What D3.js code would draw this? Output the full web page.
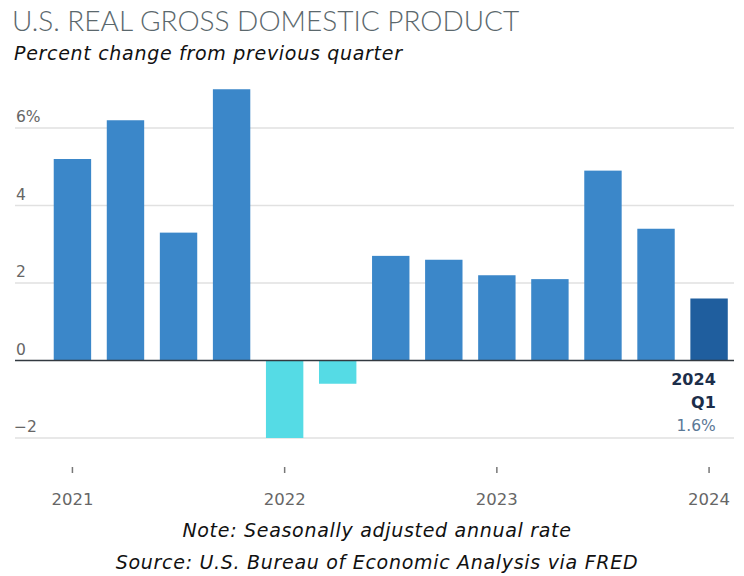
<!DOCTYPE html>
<html>
<head>
<meta charset="utf-8">
<script src="https://cdn.jsdelivr.net/npm/d3@7"></script>
<style>
  html, body { margin: 0; padding: 0; background: #fff; }
  svg { display: block; }
</style>
</head>
<body>
<svg id="chart" width="744" height="576"></svg>
<script>
// Quarterly real GDP growth, percent change from previous quarter (SAAR)
const quarters = ["2021 Q1", "2021 Q2", "2021 Q3", "2021 Q4",
                  "2022 Q1", "2022 Q2", "2022 Q3", "2022 Q4",
                  "2023 Q1", "2023 Q2", "2023 Q3", "2023 Q4",
                  "2024 Q1"];
const growth = [5.2, 6.2, 3.3, 7.0, -2.0, -0.6, 2.7, 2.6, 2.2, 2.1, 4.9, 3.4, 1.6];
const yTicks = [-2, 0, 2, 4, 6];
const yearTicks = ["2021 Q1", "2022 Q1", "2023 Q1", "2024 Q1"];

const svg = d3.select("#chart");

const x = d3.scaleBand()
  .domain(quarters)
  .range([45.9, 735.6])
  .paddingInner(0.295)
  .paddingOuter(0.1475);

const y = d3.scaleLinear()
  .domain([-2, 6])
  .range([438, 128]);

const gridLeft = 15, gridRight = 734;
const italicFont = "'DejaVu Sans', sans-serif";
const numFont = "'DejaVu Sans', sans-serif";

// Title and subtitle
svg.append("text")
  .attr("x", 12).attr("y", 31)
  .attr("font-family", "Lato, sans-serif")
  .attr("font-weight", 300)
  .attr("font-size", 28)
  .attr("fill", "#5b686d")
  .text("U.S. REAL GROSS DOMESTIC PRODUCT");

svg.append("text")
  .attr("x", 14).attr("y", 60)
  .attr("font-family", italicFont)
  .attr("font-style", "italic")
  .attr("font-size", 19)
  .attr("letter-spacing", 0.7)
  .attr("fill", "#111")
  .text("Percent change from previous quarter");

// Horizontal gridlines
svg.append("g")
  .selectAll("line")
  .data(yTicks.filter(d => d !== 0))
  .join("line")
  .attr("x1", gridLeft).attr("x2", gridRight)
  .attr("y1", d => y(d)).attr("y2", d => y(d))
  .attr("stroke", "#e1e1e1")
  .attr("stroke-width", 1.5);

// Y tick labels sit just above their gridlines
svg.append("g")
  .selectAll("text")
  .data(yTicks)
  .join("text")
  .attr("x", d => d < 0 ? 14 : 16)
  .attr("y", d => y(d) - 6)
  .attr("font-family", numFont)
  .attr("font-size", 15.5)
  .attr("fill", "#666")
  .text(d => d === 6 ? "6%" : (d < 0 ? "\u22122" : d));

// Bars
const colorFor = (d, i) => i === quarters.length - 1 ? "#1f5e9e"
                         : d < 0 ? "#55dbe5" : "#3b87c9";

svg.append("g")
  .selectAll("rect")
  .data(growth)
  .join("rect")
  .attr("x", (d, i) => x(quarters[i]))
  .attr("width", x.bandwidth())
  .attr("y", d => y(Math.max(0, d)))
  .attr("height", d => Math.abs(y(d) - y(0)))
  .attr("fill", colorFor);

// Zero baseline
svg.append("line")
  .attr("x1", gridLeft).attr("x2", gridRight)
  .attr("y1", y(0)).attr("y2", y(0))
  .attr("stroke", "#333a40")
  .attr("stroke-width", 1.5);

// Year ticks below the plot, centred on each first-quarter bar
const xAxis = d3.axisBottom(x)
  .tickValues(yearTicks)
  .tickSize(6)
  .tickPadding(20)
  .tickFormat(d => d.slice(0, 4));

const gx = svg.append("g")
  .attr("transform", "translate(0,467)")
  .call(xAxis);
gx.select(".domain").remove();
gx.selectAll(".tick line").attr("stroke", "#777").attr("stroke-width", 1.5);
gx.selectAll(".tick text")
  .attr("font-family", numFont)
  .attr("font-size", 16.5)
  .attr("fill", "#666");

// Callout for the latest quarter
const last = quarters.length - 1;
const calloutX = x(quarters[last]) + x.bandwidth() - 12;
const callout = svg.append("g")
  .attr("font-family", numFont)
  .attr("text-anchor", "end");
callout.append("text")
  .attr("x", calloutX).attr("y", 385)
  .attr("font-weight", 700).attr("font-size", 16)
  .attr("fill", "#1c2e4a")
  .text(quarters[last].slice(0, 4));
callout.append("text")
  .attr("x", calloutX).attr("y", 408)
  .attr("font-weight", 700).attr("font-size", 16)
  .attr("fill", "#1c2e4a")
  .text(quarters[last].slice(5));
callout.append("text")
  .attr("x", calloutX).attr("y", 431)
  .attr("font-size", 15.5)
  .attr("fill", "#5a7896")
  .text(d3.format(".1f")(growth[last]) + "%");

// Footnotes
const foot = svg.append("g")
  .attr("font-family", italicFont)
  .attr("font-style", "italic")
  .attr("font-size", 19)
  .attr("letter-spacing", 0.7)
  .attr("fill", "#111")
  .attr("text-anchor", "middle");
foot.append("text").attr("x", 377).attr("y", 537)
  .text("Note: Seasonally adjusted annual rate");
foot.append("text").attr("x", 377).attr("y", 569)
  .text("Source: U.S. Bureau of Economic Analysis via FRED");
</script>
</body>
</html>
